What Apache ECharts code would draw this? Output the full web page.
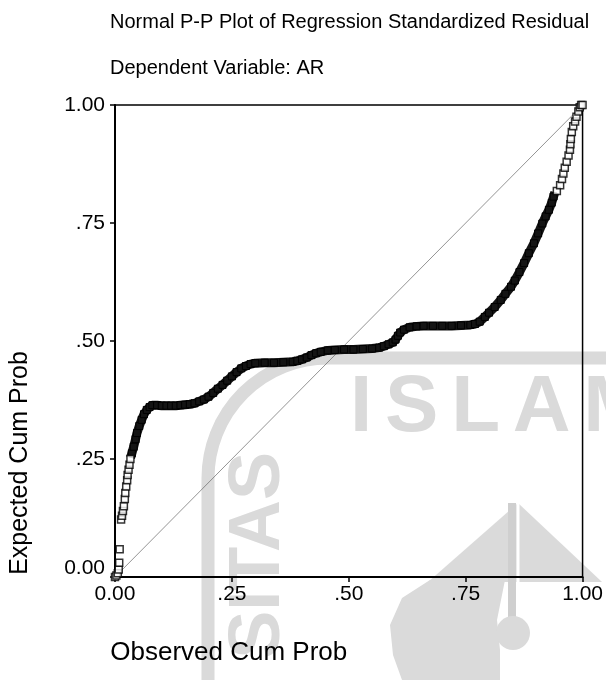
<!DOCTYPE html>
<html>
<head>
<meta charset="utf-8">
<script src="https://cdn.jsdelivr.net/npm/echarts@6/dist/echarts.min.js"></script>
<style>
html,body{margin:0;padding:0;background:#fff;}
#chart{width:606px;height:680px;}
</style>
</head>
<body>
<div id="chart"></div>
<script>
// ---- texts ----
const titleText = 'Normal P-P Plot of Regression Standardized Residual';
const subtitleText = 'Dependent Variable: AR';
const xName = 'Observed Cum Prob';
const yName = 'Expected Cum Prob';
const xTickLabels = ['0.00', '.25', '.50', '.75', '1.00'];
const yTickLabels = ['0.00', '.25', '.50', '.75', '1.00'];

// ---- data ----
// sparse low tail (individual squares)
const lowObs = [0.000, 0.003, 0.006, 0.008, 0.009, 0.010, 0.013, 0.015, 0.017, 0.019, 0.021, 0.022, 0.024, 0.026, 0.027, 0.029, 0.031, 0.033];
const lowExp = [0.000, 0.003, 0.008, 0.016, 0.030, 0.059, 0.122, 0.130, 0.140, 0.150, 0.165, 0.178, 0.192, 0.205, 0.216, 0.227, 0.238, 0.250];
// dense body (overlapping squares forming a band)
const bodyObs = [0.036,0.040,0.044,0.047,0.052,0.057,0.062,0.068,0.074,0.080,
  0.090,0.100,0.110,0.120,0.130,0.140,0.150,0.160,0.170,0.180,
  0.190,0.200,0.210,0.220,0.230,0.240,0.250,0.260,0.270,0.280,0.290,0.300,
  0.320,0.340,0.360,0.380,0.390,
  0.400,0.410,0.420,0.430,0.440,0.455,0.470,
  0.490,0.510,0.530,0.550,0.565,
  0.575,0.585,0.594,0.600,0.605,0.610,0.618,0.630,0.645,
  0.660,0.680,0.700,0.720,0.740,0.760,0.770,
  0.780,0.791,0.800,0.812,0.825,0.835,0.847,0.855,0.865,0.875,0.885,0.896,0.905,0.914,0.921,0.928,0.934,0.938];
const bodyExp = [0.262,0.276,0.292,0.305,0.320,0.333,0.345,0.354,0.360,0.364,
  0.364,0.363,0.363,0.363,0.363,0.364,0.365,0.366,0.368,0.372,
  0.376,0.382,0.390,0.399,0.407,0.416,0.425,0.434,0.442,0.447,0.451,0.453,
  0.454,0.454,0.455,0.456,0.458,
  0.461,0.465,0.470,0.474,0.477,0.480,0.481,
  0.482,0.482,0.483,0.484,0.486,
  0.489,0.493,0.497,0.503,0.511,0.518,0.524,0.529,0.531,
  0.532,0.532,0.532,0.532,0.533,0.534,0.536,
  0.541,0.551,0.560,0.572,0.587,0.600,0.615,0.628,0.646,0.665,0.686,0.707,0.728,0.749,0.764,0.778,0.793,0.806];
// sparse high tail
const highObs = [0.945, 0.952, 0.956, 0.959, 0.962, 0.966, 0.970, 0.973, 0.974, 0.975, 0.977, 0.980, 0.984, 0.987, 0.991, 0.994, 0.997, 1.000];
const highExp = [0.818, 0.830, 0.843, 0.855, 0.867, 0.880, 0.893, 0.905, 0.917, 0.928, 0.943, 0.955, 0.965, 0.975, 0.986, 0.995, 1.000, 1.000];
// diagonal reference line
const refObs = [0, 1];
const refExp = [0, 1];

const FONT = '"Liberation Sans", Arial, Helvetica, sans-serif';
const WM = '#dadada';

const pairs = (a, b) => a.map((v, i) => [v, b[i]]);
const tickFmt = labels => v => labels[Math.round(v * 4)] || '';

const chart = echarts.init(document.getElementById('chart'), null, {renderer: 'canvas'});

const option = {
  backgroundColor: '#ffffff',
  animation: false,
  title: [
    {text: titleText, left: 110, top: 12, padding: 0,
     textStyle: {fontSize: 20, fontWeight: 'normal', fontFamily: FONT, color: '#000'}},
    {text: subtitleText, left: 110, top: 58, padding: 0,
     textStyle: {fontSize: 20, fontWeight: 'normal', fontFamily: FONT, color: '#000'}}
  ],
  grid: {left: 110, right: 19, top: 105, bottom: 103, show: true,
         borderColor: '#000', borderWidth: 1.5, backgroundColor: 'transparent'},
  xAxis: {
    type: 'value', min: 0, max: 1, interval: 0.25,
    name: xName, nameLocation: 'middle', nameGap: 63,
    nameTextStyle: {fontSize: 26, fontFamily: FONT, color: '#000', padding: [0, 240, 0, 0]},
    axisLine: {show: true, lineStyle: {color: '#000', width: 2}},
    axisTick: {show: true, length: 5, lineStyle: {color: '#000', width: 1.5}},
    axisLabel: {formatter: tickFmt(xTickLabels), fontSize: 21, fontFamily: FONT, color: '#000', margin: 7},
    splitLine: {show: false}
  },
  yAxis: {
    type: 'value', min: 0, max: 1, interval: 0.25,
    name: yName, nameLocation: 'middle', nameGap: 82,
    nameTextStyle: {fontSize: 25, fontFamily: FONT, color: '#000', padding: [0, 244, 0, 0]},
    axisLine: {show: true, lineStyle: {color: '#000', width: 2}},
    axisTick: {show: true, length: 5, lineStyle: {color: '#000', width: 1.5}},
    axisLabel: {
      formatter: v => (v === 0 ? '{lift|' + yTickLabels[0] + '}' : tickFmt(yTickLabels)(v)),
      fontSize: 21, fontFamily: FONT, color: '#000', margin: 10,
      rich: {lift: {fontSize: 21, fontFamily: FONT, color: '#000', padding: [0, 0, 18, 0]}}
    },
    splitLine: {show: false}
  },
  graphic: [
    {type: 'rect', z: -10, silent: true, shape: {x: 208, y: 358, width: 800, height: 800, r: 120},
     style: {fill: 'none', stroke: WM, lineWidth: 13}},
    {type: 'text', z: -10, silent: true, x: 350, y: 409,
     style: {text: '{a|I}{g| }{a|S}{g| }{a|L}{g| }{a|A}{g| }{a|M}', verticalAlign: 'middle', align: 'left',
       rich: {a: {fontSize: 80, fontWeight: 'bold', fontFamily: FONT, fill: WM},
              g: {fontSize: 46, fontFamily: FONT, fill: WM}}}},
    {type: 'text', z: -10, silent: true, x: 259, y: 452, rotation: Math.PI / 2,
     style: {text: 'SITAS', fontSize: 72, fontWeight: 'bold', fontFamily: FONT, fill: WM,
       align: 'right', verticalAlign: 'middle'}},
    {type: 'polygon', z: -10, silent: true,
     shape: {points: [[518, 503], [428, 582], [602, 582]]}, style: {fill: WM}},
    {type: 'polygon', z: -10, silent: true,
     shape: {points: [[430, 580], [402, 598], [390, 625], [393, 655], [402, 680], [500, 680], [500, 650], [497, 620], [505, 580]]},
     style: {fill: WM}},
    {type: 'rect', z: -9, silent: true, shape: {x: 508, y: 503, width: 8, height: 118}, style: {fill: '#cfcfcf'}},
    {type: 'line', z: -9, silent: true, shape: {x1: 518, y1: 503, x2: 518, y2: 620}, style: {stroke: '#fff', lineWidth: 3}},
    {type: 'circle', z: -9, silent: true, shape: {cx: 513, cy: 633, r: 17}, style: {fill: WM}}
  ],
  series: [
    {
      type: 'line', name: 'reference', data: pairs(refObs, refExp), z: 1,
      symbol: 'none', clip: false, silent: true,
      lineStyle: {color: '#666', width: 0.7}
    },
    {
      type: 'line', name: 'body', data: pairs(bodyObs, bodyExp), z: 3,
      symbol: 'rect', symbolSize: 7, showAllSymbol: true, clip: false, silent: true,
      itemStyle: {color: '#141414', borderColor: '#000', borderWidth: 1},
      lineStyle: {color: '#141414', width: 9, join: 'round', cap: 'square'}
    },
    {
      type: 'scatter', name: 'low', data: pairs(lowObs, lowExp), z: 4,
      symbol: 'rect', symbolSize: 7, clip: false, silent: true,
      itemStyle: {color: '#fff', borderColor: '#000', borderWidth: 1.5}
    },
    {
      type: 'scatter', name: 'high', data: pairs(highObs, highExp), z: 4,
      symbol: 'rect', symbolSize: 7, clip: false, silent: true,
      itemStyle: {color: '#fff', borderColor: '#000', borderWidth: 1.5}
    }
  ]
};
chart.setOption(option);
</script>
</body>
</html>
